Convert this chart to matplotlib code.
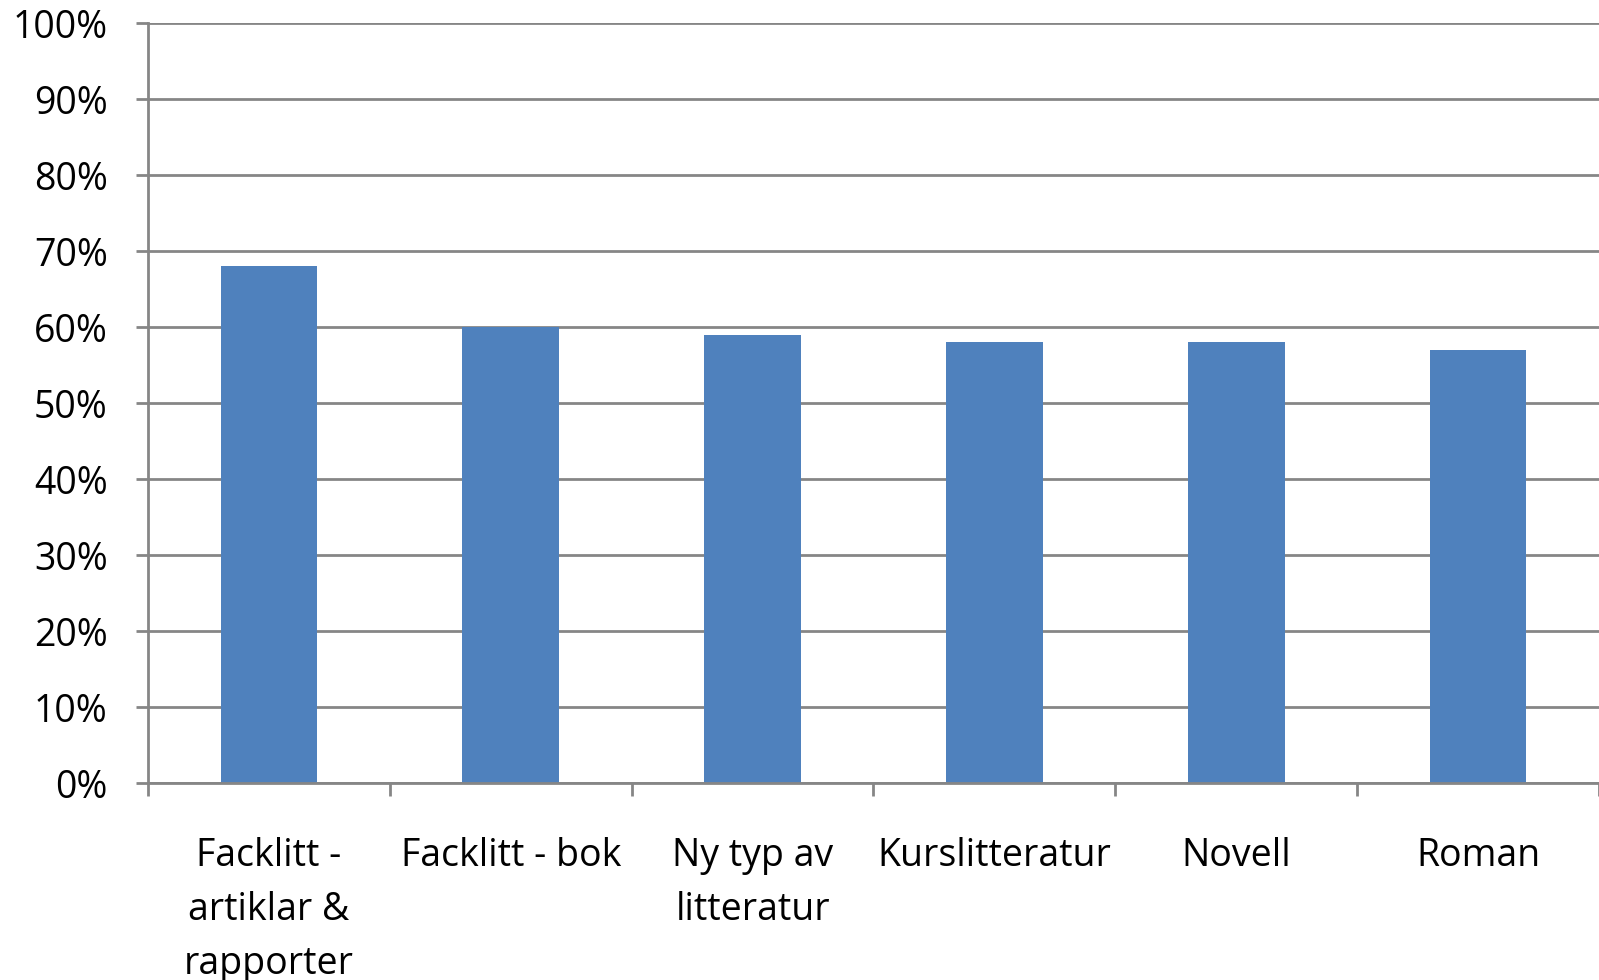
import numpy as np
import matplotlib.pyplot as plt
from matplotlib.ticker import FixedLocator, PercentFormatter

plt.rcParams['font.family'] = ['Open Sans', 'DejaVu Sans']

# Data
categories = ["Facklitt -\nartiklar &\nrapporter", "Facklitt - bok", "Ny typ av\nlitteratur",
              "Kurslitteratur", "Novell", "Roman"]
values = [68, 60, 59, 58, 58, 57]

fig = plt.figure(figsize=(15.99, 9.80), dpi=100)
ax = fig.add_axes([148 / 1599, 1 - 783 / 980, 1 - 148 / 1599, (783 - 23) / 980])

x = np.arange(len(categories))
ax.bar(x, values, width=0.4, color='#4F81BD', zorder=3)

ax.set_xlim(-0.5, len(categories) - 0.5)
ax.set_ylim(0, 100)
ax.set_yticks(np.arange(0, 101, 10))
ax.yaxis.set_major_formatter(PercentFormatter(decimals=0))
ax.grid(axis='y', color='#868686', linewidth=2.0, zorder=0)

ax.set_xticks(x)
ax.set_xticklabels(categories, linespacing=1.55)
ax.xaxis.set_minor_locator(FixedLocator(np.arange(-0.5, len(categories), 1)))
ax.tick_params(axis='x', which='major', length=0, pad=39, labelsize=27)
ax.tick_params(axis='x', which='minor', length=9.5, width=2.0, color='#868686')
ax.tick_params(axis='y', length=9, width=2.0, color='#868686', pad=20, labelsize=27)

for s in ['top', 'right']:
    ax.spines[s].set_visible(False)
for s in ['left', 'bottom']:
    ax.spines[s].set_color('#868686')
    ax.spines[s].set_linewidth(2.0)
    ax.spines[s].set_zorder(4)

fig.savefig('out.png', dpi=100)
